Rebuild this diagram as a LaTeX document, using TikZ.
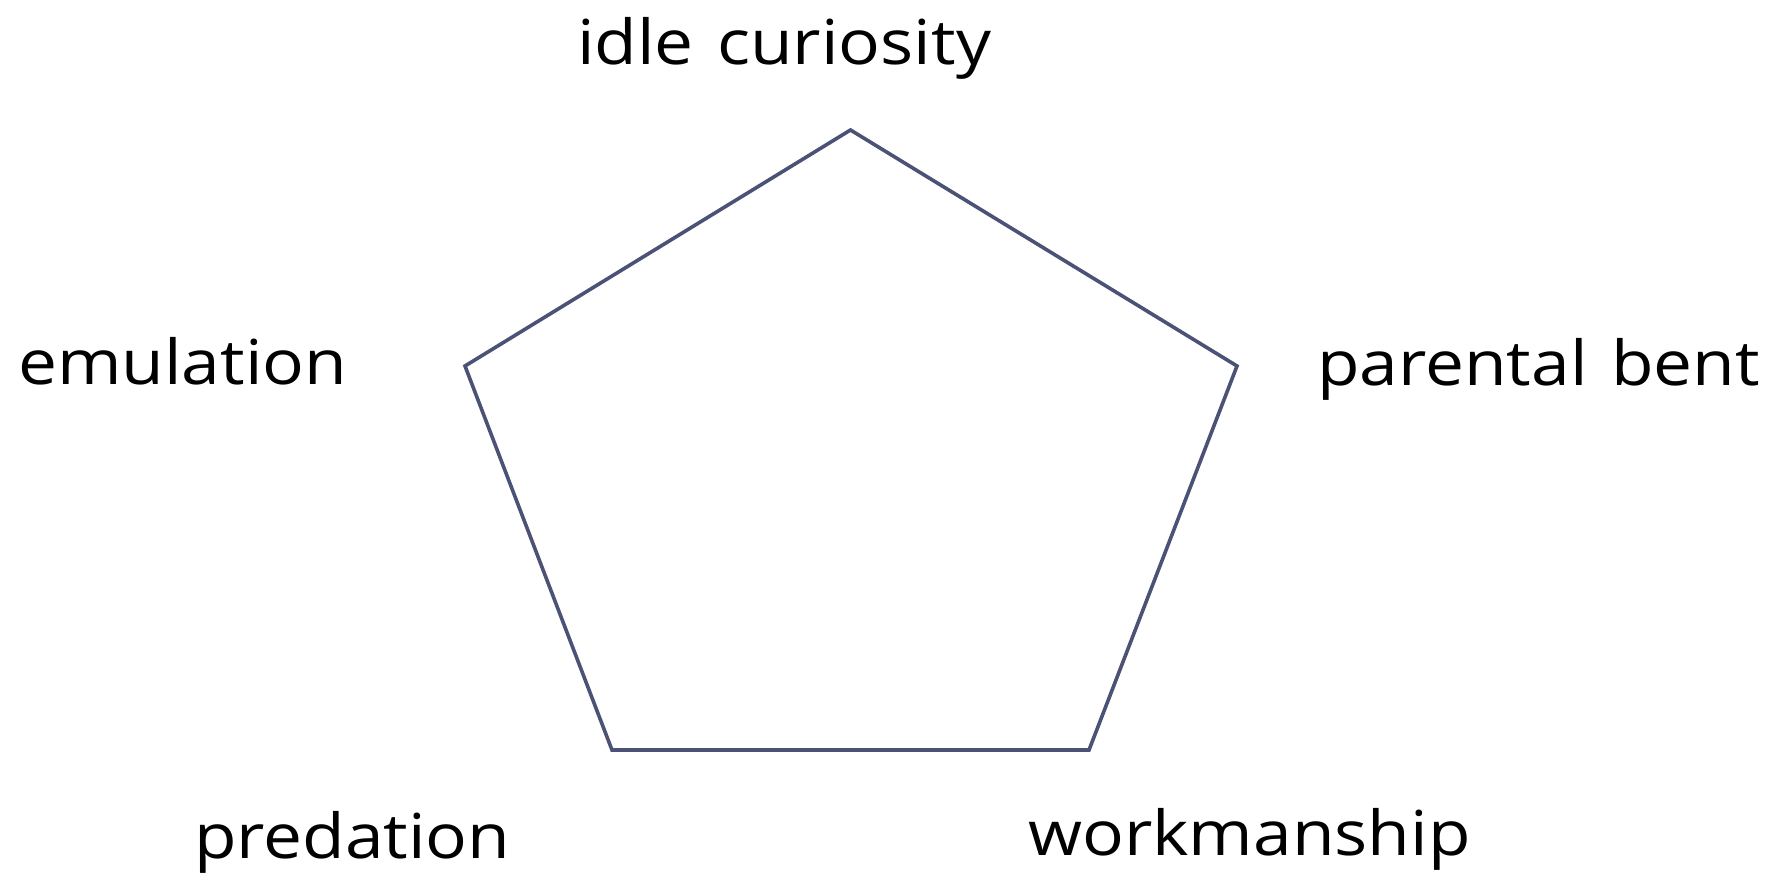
\documentclass[tikz,border=0pt]{standalone}
\usepackage{fontspec}
\setmainfont{Open Sans}[FakeStretch=1.12, WordSpace=1.3]
\definecolor{edge}{HTML}{4B5275}
\begin{document}
\begin{tikzpicture}[x=1pt,y=-1pt,
  lbl/.style={font=\fontsize{62}{70}\selectfont, inner sep=0pt, anchor=base west, text=black},
  pent/.style={draw=edge, line width=3.6pt, line join=miter}]
\useasboundingbox (0,0) rectangle (1778,882);
\coordinate (t) at (850.5,130);
\coordinate (r) at (1237,366);
\coordinate (br) at (1089,750);
\coordinate (bl) at (612,750);
\coordinate (l) at (465,366);
\draw[pent] (t) -- (r) -- (br) -- (bl) -- (l) -- cycle;
\node[lbl] (idle) at (577,65) {idle curiosity};
\node[lbl] (emu) at (18,385) {emulation};
\node[lbl] (par) at (1317,386) {parental bent};
\node[lbl] (pred) at (194,858) {predation};
\node[lbl] (work) at (1028,855) {workmanship};
\end{tikzpicture}
\end{document}
